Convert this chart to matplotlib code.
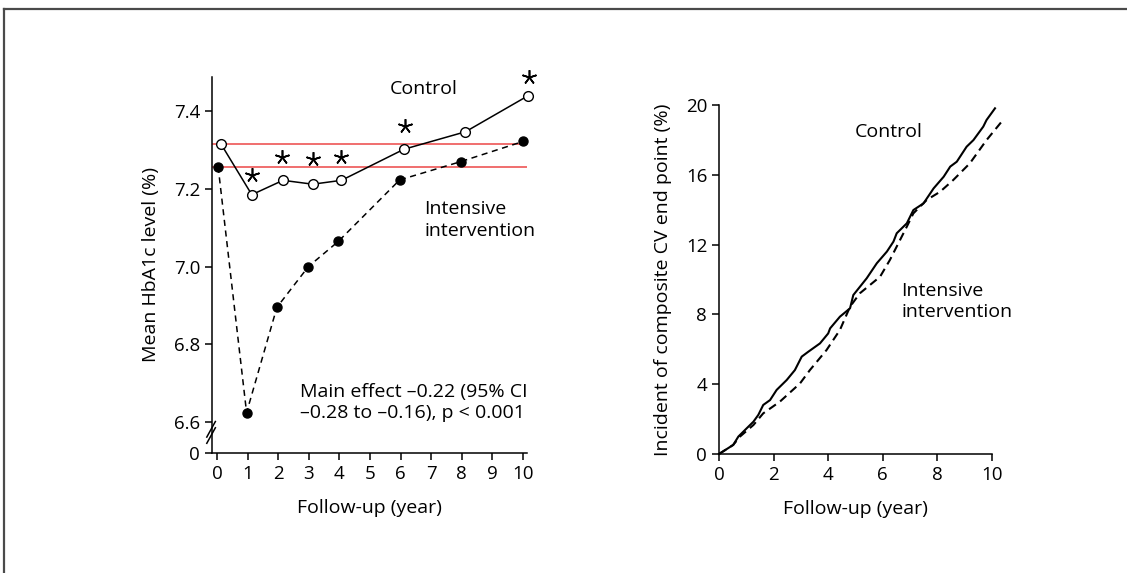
import matplotlib.pyplot as plt
from matplotlib.lines import Line2D

plt.rcParams["font.family"] = ["Open Sans", "DejaVu Sans"]

# HbA1c by follow-up year
control_years = [0.13, 1.14, 2.16, 3.13, 4.07, 6.11, 8.12, 10.17]
control_hba1c = [7.316, 7.185, 7.222, 7.212, 7.222, 7.302, 7.347, 7.440]
intensive_years = [0.04, 0.97, 1.96, 2.99, 3.97, 5.97, 7.96, 10.0]
intensive_hba1c = [7.257, 6.624, 6.895, 7.0, 7.065, 7.223, 7.270, 7.322]
baseline_levels = [7.316, 7.257]
star_years = [1.15, 2.14, 3.13, 4.07, 6.14, 10.2]
star_levels = [7.236, 7.282, 7.277, 7.282, 7.362, 7.487]
left_xticks = list(range(0, 11))
left_yticks = [6.52, 6.6, 6.8, 7.0, 7.2, 7.4]
left_yticklabels = ["0", "6.6", "6.8", "7.0", "7.2", "7.4"]

# cumulative incidence of composite CV end point
cv_control_years = [0, 0.52, 0.71, 1.0, 1.26, 1.44, 1.62, 1.87, 2.11, 2.48, 2.78,
                    3.03, 3.27, 3.70, 4.0, 4.07, 4.43, 4.8, 4.92, 5.41, 5.78,
                    6.15, 6.39, 6.51, 6.88, 7.12, 7.49, 7.86, 8.23, 8.47, 8.71,
                    9.07, 9.32, 9.68, 9.8, 10.11]
cv_control = [0, 0.52, 1.0, 1.45, 1.85, 2.24, 2.81, 3.09, 3.67, 4.24, 4.81,
              5.58, 5.86, 6.34, 6.91, 7.2, 7.87, 8.35, 9.11, 10.07, 10.93,
              11.6, 12.17, 12.65, 13.22, 13.98, 14.36, 15.22, 15.89, 16.47,
              16.75, 17.61, 17.99, 18.76, 19.14, 19.81]
cv_intensive_years = [0, 0.52, 0.77, 1.26, 1.62, 2.23, 2.97, 3.33, 3.94, 4.43,
                      4.8, 5.16, 5.9, 6.26, 6.63, 6.88, 7.12, 7.61, 8.1, 8.58,
                      9.19, 9.8, 10.35]
cv_intensive = [0, 0.52, 1.0, 1.66, 2.33, 3.0, 4.05, 4.81, 5.96, 7.11, 8.44,
                9.21, 10.16, 11.12, 12.26, 13.03, 13.79, 14.56, 15.03, 15.7,
                16.66, 17.99, 19.04]
right_xticks = [0, 2, 4, 6, 8, 10]
right_yticks = [0, 4, 8, 12, 16, 20]

W, H = 1127, 573
fig = plt.figure(figsize=(W / 100, H / 100), dpi=100)


def px_axes(left, top, right, bottom):
    return fig.add_axes([left / W, 1 - bottom / H, (right - left) / W, (bottom - top) / H])


def style(ax):
    for side in ["top", "right"]:
        ax.spines[side].set_visible(False)
    for side in ["left", "bottom"]:
        ax.spines[side].set_linewidth(1.1)
    ax.tick_params(direction="out", length=5, width=1.1, labelsize=13.5, pad=3.5)


# frame around the figure
fig.add_artist(Line2D([4 / W, 1], [1 - 9 / H, 1 - 9 / H], color="#4a4a4a", lw=1.6))
fig.add_artist(Line2D([4 / W, 4 / W], [0, 1 - 9 / H], color="#4a4a4a", lw=1.6))

# left panel
ax1 = px_axes(212, 77, 527, 453)
style(ax1)
ax1.set_xlim(-0.16, 10.13)
ax1.set_ylim(6.52, 7.488)
for lvl in baseline_levels:
    ax1.axhline(lvl, color="#ee5555", lw=1.2, zorder=1)
ax1.plot(intensive_years, intensive_hba1c, color="black", lw=1.1, ls=(0, (4, 3)),
         marker="o", ms=6.5, mfc="black", mec="black", clip_on=False, zorder=3)
ax1.plot(control_years, control_hba1c, color="black", lw=1.1,
         marker="o", ms=7, mfc="white", mec="black", mew=1, clip_on=False, zorder=4)
ax1.plot(star_years, star_levels, ls="none", marker=(5, 2, 0), ms=10.5, mew=1.2,
         color="black", clip_on=False)
ax1.set_xticks(left_xticks)
ax1.set_yticks(left_yticks)
ax1.set_yticklabels(left_yticklabels)
ax1.set_xlabel("Follow-up (year)", fontsize=14, labelpad=12)
ax1.set_ylabel("Mean HbA1c level (%)", fontsize=14, labelpad=10)
ax1.text(5.65, 7.457, "Control", fontsize=14, va="center")
ax1.text(6.77, 7.12, "Intensive\nintervention", fontsize=14, va="center", linespacing=1.25)
ax1.text(2.71, 6.65, "Main effect \u20130.22 (95% CI\n\u20130.28 to \u20130.16), p < 0.001",
         fontsize=14, va="center", linespacing=1.25)
# axis break on the y spine
for dy in (0.0, 0.016):
    ax1.plot([-0.33, -0.05], [6.545 + dy, 6.585 + dy], color="black", lw=1.1,
             clip_on=False)

# right panel
ax2 = px_axes(719, 105, 992, 454)
style(ax2)
ax2.set_xlim(0, 10)
ax2.set_ylim(0, 20)
ax2.plot(cv_control_years, cv_control, color="black", lw=1.5, clip_on=False)
ax2.plot(cv_intensive_years, cv_intensive, color="black", lw=1.5, ls=(0, (4, 2.5)),
         clip_on=False)
ax2.set_xticks(right_xticks)
ax2.set_yticks(right_yticks)
ax2.set_xlabel("Follow-up (year)", fontsize=14, labelpad=12)
ax2.set_ylabel("Incident of composite CV end point (%)", fontsize=14, labelpad=10)
ax2.text(4.98, 18.47, "Control", fontsize=14, va="center")
ax2.text(6.67, 8.73, "Intensive\nintervention", fontsize=14, va="center", linespacing=1.25)

fig.savefig("out.png", dpi=100)
